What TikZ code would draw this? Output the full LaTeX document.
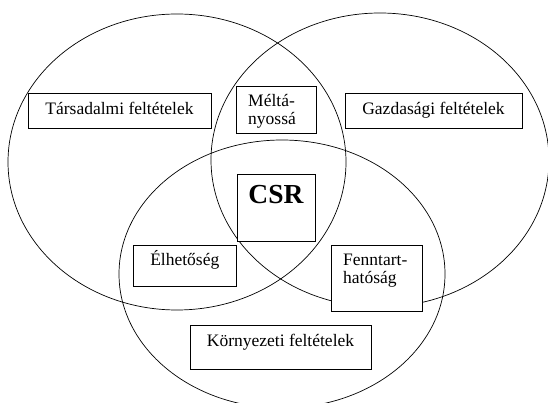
\documentclass[tikz,border=0pt]{standalone}
\usepackage{fontspec}
\setmainfont{Liberation Serif}
\begin{document}
\begin{tikzpicture}[x=1pt,y=-1pt,
  ell/.style={draw=black,line width=0.7pt},
  box/.style={draw=black,fill=white,line width=0.8pt,inner sep=0pt,minimum width=#1},
  txt/.style={inner sep=0pt,font=\fontsize{17.5}{17.8}\selectfont,align=left},
  big/.style={inner sep=0pt,font=\fontsize{27.5}{30}\selectfont\bfseries}]
\useasboundingbox (0,0) rectangle (548,403);
\fill[white] (0,0) rectangle (548,403);
% circles
\draw[ell] (177,162) ellipse [x radius=169pt, y radius=148pt];
\draw[ell] (380,160) ellipse [x radius=169pt, y radius=147pt];
\draw[ell] (282,274) ellipse [x radius=163pt, y radius=134pt];
% boxes
\node[box=183pt,minimum height=35pt] (tars) at (119.5,110.5) {};
\node[box=80pt,minimum height=47pt] (melt) at (276,109.5) {};
\node[box=177pt,minimum height=35pt] (gazd) at (433.5,110.5) {};
\node[box=78pt,minimum height=67pt] (csr) at (276,207.5) {};
\node[box=102.5pt,minimum height=41pt] (elh) at (184.75,265.5) {};
\node[box=91pt,minimum height=66pt] (fenn) at (376.5,278) {};
\node[box=181pt,minimum height=44pt] (korny) at (280.5,347) {};
% texts
\node[txt,anchor=base] (tarsT) at (119.5,114.6) {Társadalmi feltételek};
\node[txt,anchor=base] (gazdT) at (433.5,114.6) {Gazdasági feltételek};
\node[txt,anchor=base west] (meltT) at (248,124.2) {Méltá-\\nyossá};
\node[big,anchor=base] (csrT) at (276,203.8) {CSR};
\node[txt,anchor=base] (elhT) at (184.8,265.6) {Élhetőség};
\node[txt,anchor=base west] (fennT) at (343,283.6) {Fenntart-\\hatóság};
\node[txt,anchor=base] (kornyT) at (280.5,346) {Környezeti feltételek};
\end{tikzpicture}
\end{document}
